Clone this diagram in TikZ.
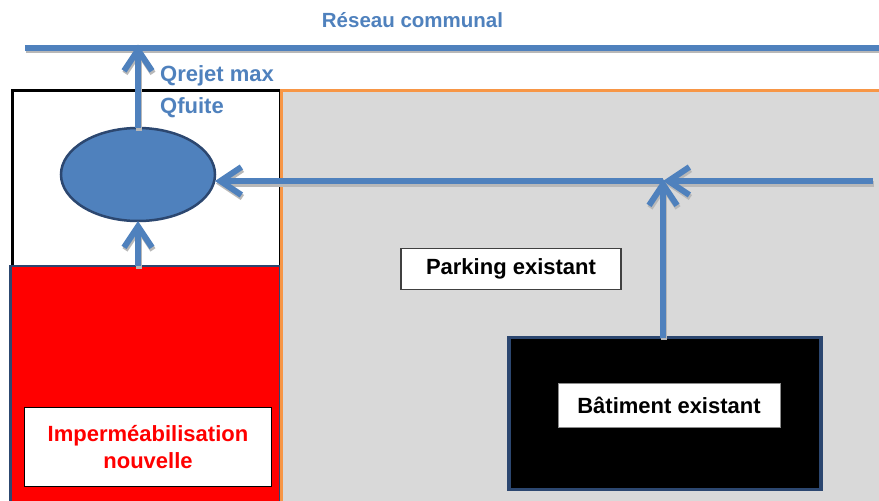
\documentclass[tikz,border=0pt]{standalone}
\usepackage{fontspec}
\setmainfont{Liberation Sans}
\usetikzlibrary{arrows.meta,shapes.geometric}
\definecolor{cblue}{HTML}{4F81BD}
\definecolor{corange}{HTML}{F79646}
\definecolor{cgray}{HTML}{D9D9D9}
\definecolor{cnavy}{HTML}{2C4770}
\begin{document}
\begin{tikzpicture}[x=1pt,y=-1pt,
  box/.style={rectangle, inner sep=0pt, outer sep=0pt},
  tipstyle/.style={-{Straight Barb[length=21pt,width=28pt]}},
  flow/.style={draw=cblue, line width=6pt, tipstyle},
  flowsh/.style={draw=black!28, line width=6pt, tipstyle},
  net/.style={draw=cblue, line width=6pt},
  netsh/.style={draw=black!28, line width=6pt},
  lbl/.style={inner sep=0pt, text=cblue, font=\bfseries\fontsize{22}{26}\selectfont},
  tag/.style={box, fill=white, font=\bfseries\fontsize{22}{27}\selectfont, align=center}]
\useasboundingbox (0,0) rectangle (879,501);
\clip (0,0) rectangle (879,501);
% site (white with black border)
\node[box, draw=black, fill=white, line width=3pt, anchor=north west,
  minimum width=268pt, minimum height=430pt] (site) at (12,90) {};
% new impervious area (red)
\node[box, draw=cnavy, fill=red, line width=2.5pt, anchor=north west,
  minimum width=269.5pt, minimum height=260pt] (imp) at (10.5,266) {};
% existing parking area (gray)
\node[box, draw=corange, fill=cgray, line width=3pt, anchor=north west,
  minimum width=620pt, minimum height=430pt] (parkarea) at (281,90.5) {};
% existing building
\node[box, draw=cnavy, fill=black, line width=3.5pt,
  minimum width=312pt, minimum height=152pt] (bld) at (665,413.5) {};
% labels in boxes
\node[tag, draw=black!75, line width=1.2pt, minimum width=220pt, minimum height=41pt]
  (parklbl) at (511,269) {Parking existant};
\node[tag, draw=black!45, line width=1pt, minimum width=222pt, minimum height=44pt]
  (bldlbl) at (669,405) {Bâtiment existant};
\node[tag, draw=black, line width=1.2pt, minimum width=247pt, minimum height=79pt, text=red]
  (implbl) at (148,447) {Imperméabilisation\\nouvelle};
% storage basin
\node[ellipse, draw=cnavy, line width=2.5pt, fill=cblue, inner sep=0pt, outer sep=0pt,
  minimum width=154pt, minimum height=93pt] (pond) at (138,174.5) {};
% municipal network
\coordinate (netL) at (25,47.5);
\coordinate (netR) at (879,47.5);
\node[inner sep=0pt, text=cblue, font=\bfseries\fontsize{20.5}{24}\selectfont]
  (title) at (412.5,20) {Réseau communal};
% junction and collector
\coordinate (junc) at (663,181);
\coordinate (colR) at (873,181);
% shadows
\begin{scope}[transform canvas={shift={(1pt,-2.5pt)}}]
\draw[netsh] (netL) -- (netR);
\draw[flowsh] (pond.north) -- ([yshift=3pt]pond.north |- netL);
\draw[flowsh] (pond.south |- imp.north) -- (pond.south);
\draw[flowsh] (colR) -- (junc);
\draw[flowsh] (junc) -- (junc -| pond.east);
\draw[flowsh] (junc |- bld.north) -- ([yshift=2pt]junc);
\end{scope}
% network and connectors
\draw[net] (netL) -- (netR);
\draw[flow] (pond.north) -- ([yshift=3pt]pond.north |- netL);
\draw[flow] (pond.south |- imp.north) -- (pond.south);
\draw[flow] (colR) -- (junc);
\draw[flow] (junc) -- (junc -| pond.east);
\draw[flow] (junc |- bld.north) -- ([yshift=2pt]junc);
% flow labels
\node[lbl, anchor=west] (qrejet) at (160,76) {Qrejet max};
\node[lbl, anchor=west] (qfuite) at (160,108) {Qfuite};
\end{tikzpicture}
\end{document}
